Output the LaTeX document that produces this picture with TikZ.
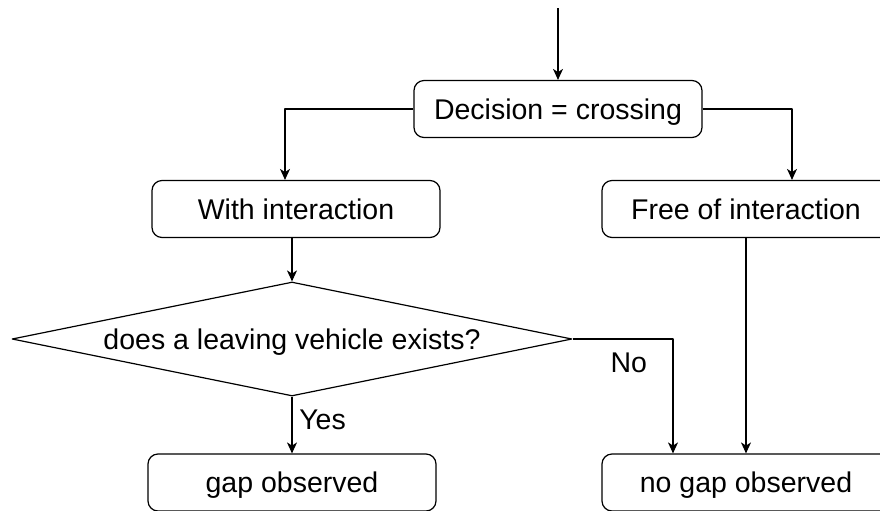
\documentclass[tikz,border=0pt]{standalone}
\usepackage{fontspec}
\setmainfont{Liberation Sans}
\usetikzlibrary{arrows.meta,shapes.geometric}

\begin{document}
\begin{tikzpicture}[
  x=0.5pt,
  y=-0.5pt,
  line join=round,
  font=\fontsize{14.25}{17}\selectfont,
  stepbox/.style={draw,rounded corners=5pt,line width=0.6pt,minimum width=144pt,minimum height=28.5pt,inner sep=0pt,text height=10.2pt,text depth=0pt},
  choice/.style={draw,diamond,line width=0.6pt,aspect=4.9,minimum width=280pt,minimum height=57pt,inner sep=0pt,text height=10.2pt,text depth=0pt},
  flow/.style={draw,line width=0.6pt,-{Stealth[length=5.5pt,width=5pt,inset=1.6pt]}}
]
  % Page frame: the two right-hand boxes run past the right edge and the
  % bottom row past the lower edge, so everything is clipped to it.
  \useasboundingbox (0,0) rectangle (880,510);
  \clip (0,0) rectangle (880,510);

  \coordinate (entry) at (558,8);

  % Boxes, placed at pixel positions of the sketch.
  \node[stepbox] (crossing) at (558,109) {Decision = crossing};
  \node[stepbox] (withint) at (296,209) {With interaction};
  \node[stepbox] (freeint) at (746,209) {Free of interaction};
  \node[choice] (leaving) at (292,339) {does a leaving vehicle exists?};
  \node[stepbox] (gap) at (292,482.5) {gap observed};
  \node[stepbox] (nogap) at (746,482.5) {no gap observed};

  % Connectors.
  \draw[flow] (entry) -- (crossing);
  \draw[flow] (crossing.west) -| ([xshift=-5.5pt]withint.north);
  \draw[flow] (crossing.east) -| ([xshift=23pt]freeint.north);
  \draw[flow] (withint.south -| leaving.north) -- (leaving.north);
  \draw[flow] (leaving.south) -- node[right,pos=0.38,yshift=-1pt] {Yes} (gap.north);
  \draw[flow] (leaving.east) -| node[below,pos=0.25,xshift=3pt,yshift=-3.5pt] {No} ([xshift=-36.5pt]nogap.north);
  \draw[flow] (freeint.south -| nogap.north) -- (nogap.north);
\end{tikzpicture}
\end{document}
